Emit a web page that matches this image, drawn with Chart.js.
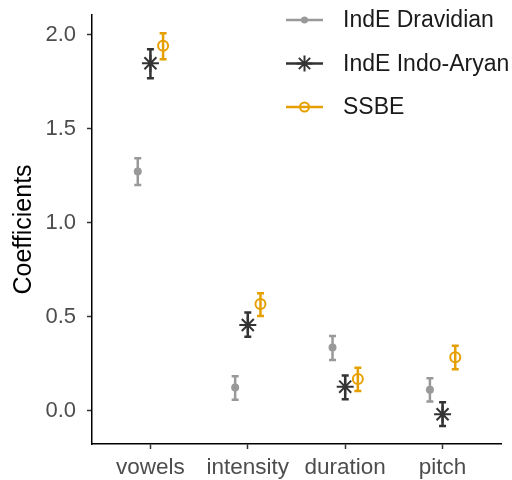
<!DOCTYPE html>
<html>
<head>
<meta charset="utf-8">
<script src="https://cdn.jsdelivr.net/npm/chart.js@4"></script>
<style>
  html, body { margin: 0; padding: 0; background: #fff; }
  #wrap { width: 512px; height: 480px; }
</style>
</head>
<body>
<div id="wrap"><canvas id="coefChart" width="512" height="480"></canvas></div>
<script>
// ===== DATA =====
const categories = ["vowels", "intensity", "duration", "pitch"];
const yTicks = [0, 0.5, 1.0, 1.5, 2.0];

const dravidianMean = [1.273, 0.124, 0.337, 0.112];
const dravidianLo   = [1.202, 0.059, 0.271, 0.050];
const dravidianHi   = [1.344, 0.184, 0.399, 0.174];

const indoAryanMean = [1.849, 0.457, 0.129, -0.018];
const indoAryanLo   = [1.770, 0.395, 0.062, -0.080];
const indoAryanHi   = [1.924, 0.523, 0.188, 0.046];

const ssbeMean = [1.943, 0.569, 0.170, 0.285];
const ssbeLo   = [1.871, 0.505, 0.106, 0.222];
const ssbeHi   = [2.009, 0.626, 0.230, 0.346];

// ===== STYLE =====
const FONT = "'Liberation Sans', Arial, sans-serif";
const dodge = 0.13;

const groups = [
    { label: "IndE Dravidian", mean: dravidianMean, lo: dravidianLo, hi: dravidianHi,
      offset: -dodge, color: "#999999", style: "circle", radius: 4, fill: "#999999", bw: 0 },
    { label: "IndE Indo-Aryan", mean: indoAryanMean, lo: indoAryanLo, hi: indoAryanHi,
      offset: 0, color: "#333333", style: "star", radius: 8.5, fill: "#333333", bw: 2 },
    { label: "SSBE", mean: ssbeMean, lo: ssbeLo, hi: ssbeHi,
      offset: dodge, color: "#E69F00", style: "circle", radius: 5, fill: "rgba(0,0,0,0)", bw: 2 }
];

function toPoints(g) {
    return g.mean.map((v, i) => ({ x: i + 1 + g.offset, y: v, lo: g.lo[i], hi: g.hi[i] }));
}

// ===== ERROR BARS =====
const errorBars = {
    id: "errorBars",
    beforeDatasetsDraw(chart) {
        const { ctx, scales: { x, y } } = chart;
        ctx.save();
        chart.data.datasets.forEach(ds => {
            ctx.strokeStyle = ds.errColor;
            ctx.lineWidth = 2.5;
            ds.data.forEach(p => {
                const px = x.getPixelForValue(p.x);
                const top = y.getPixelForValue(p.hi);
                const bot = y.getPixelForValue(p.lo);
                ctx.beginPath();
                ctx.moveTo(px, top); ctx.lineTo(px, bot);
                ctx.moveTo(px - 3.5, top); ctx.lineTo(px + 3.5, top);
                ctx.moveTo(px - 3.5, bot); ctx.lineTo(px + 3.5, bot);
                ctx.stroke();
            });
        });
        ctx.restore();
    }
};

// ===== LEGEND =====
const legendKeys = {
    id: "legendKeys",
    afterDraw(chart) {
        const ctx = chart.ctx;
        ctx.save();
        groups.forEach((g, i) => {
            const yy = 20 + i * 43.5;
            ctx.strokeStyle = g.color;
            ctx.fillStyle = g.fill;
            ctx.lineWidth = 2.5;
            ctx.beginPath();
            ctx.moveTo(286, yy); ctx.lineTo(323, yy);
            ctx.stroke();
            ctx.lineWidth = 2;
            if (g.style === "star") {
                Chart.helpers.drawPoint(ctx, { pointStyle: "star", radius: 8, borderWidth: 2 }, 304.5, yy);
            } else {
                ctx.beginPath();
                ctx.arc(304.5, yy, g.radius - 0.5, 0, Math.PI * 2);
                if (g.bw === 0) ctx.fill(); else ctx.stroke();
            }
            ctx.fillStyle = "#1a1a1a";
            ctx.font = "23px " + FONT;
            ctx.textBaseline = "middle";
            ctx.fillText(g.label, 343, yy + 1);
        });
        ctx.restore();
    }
};

// ===== CHART =====
new Chart(document.getElementById("coefChart"), {
    type: "scatter",
    data: {
        datasets: groups.map(g => ({
            label: g.label,
            data: toPoints(g),
            errColor: g.color,
            pointStyle: g.style,
            pointRadius: g.radius,
            pointHoverRadius: g.radius,
            backgroundColor: g.fill,
            borderColor: g.color,
            pointBorderWidth: g.bw,
            borderWidth: g.bw
        }))
    },
    options: {
        responsive: false,
        animation: false,
        layout: { padding: { top: 15, right: 11, left: 0, bottom: 0 } },
        plugins: { legend: { display: false }, tooltip: { enabled: false } },
        scales: {
            x: {
                type: "linear",
                min: 0.4,
                max: 4.6,
                afterBuildTicks: s => { s.ticks = categories.map((c, i) => ({ value: i + 1 })); },
                afterFit: s => { s.height = 36; s.paddingLeft = 0; s.paddingRight = 0; },
                ticks: {
                    callback: v => categories[v - 1],
                    color: "#4d4d4d",
                    font: { family: FONT, size: 22.5 },
                    padding: 5,
                    maxRotation: 0
                },
                grid: { drawOnChartArea: false, tickLength: 5, color: "#333333", tickWidth: 1.5 },
                border: { color: "#000000", width: 1.5 }
            },
            y: {
                min: -0.176,
                max: 2.106,
                afterBuildTicks: s => { s.ticks = yTicks.map(v => ({ value: v })); },
                afterFit: s => { s.width = 92; s.paddingTop = 0; s.paddingBottom = 0; },
                ticks: {
                    callback: v => v.toFixed(1),
                    color: "#4d4d4d",
                    font: { family: FONT, size: 22 },
                    padding: 11
                },
                title: {
                    display: true,
                    text: "Coefficients",
                    color: "#000000",
                    font: { family: FONT, size: 25 },
                    padding: { top: 9, bottom: 0 }
                },
                grid: { drawOnChartArea: false, tickLength: 5, color: "#333333", tickWidth: 1.5 },
                border: { color: "#000000", width: 1.5 }
            }
        }
    },
    plugins: [errorBars, legendKeys]
});
</script>
</body>
</html>
